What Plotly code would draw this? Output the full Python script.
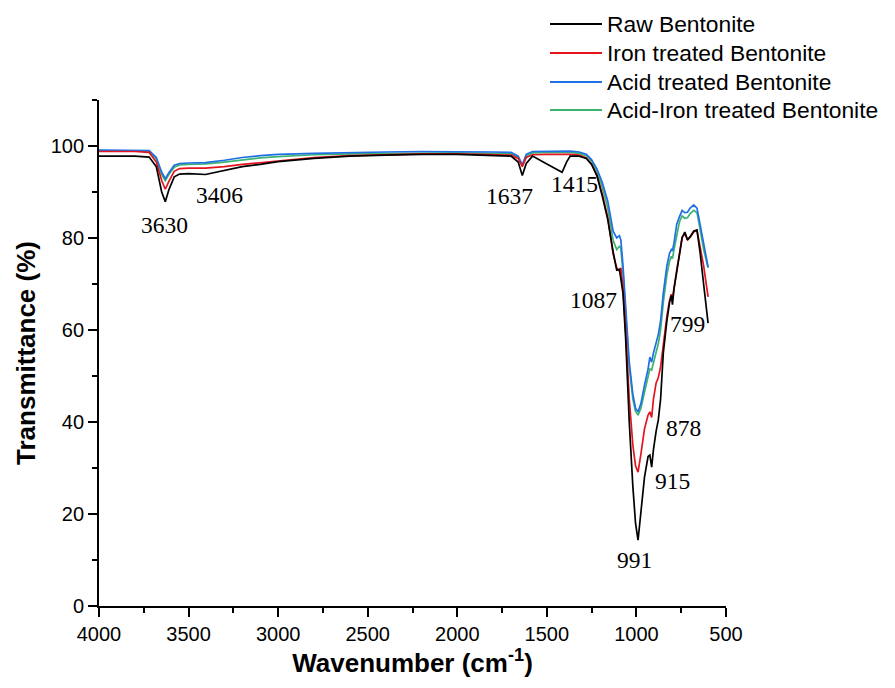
import plotly.graph_objects as go

wavenumber = [4000, 3800, 3720, 3680, 3650, 3630, 3610, 3580, 3550, 3500, 3406, 3300, 3200, 3100, 3000,
              2800, 2600, 2400, 2200, 2000, 1800, 1700, 1660, 1637, 1615, 1580, 1500, 1415, 1390, 1370,
              1320, 1280, 1250, 1220, 1190, 1160, 1130, 1110, 1095, 1087, 1075, 1060, 1040, 1020, 1005,
              991, 975, 955, 935, 925, 915, 905, 890, 878, 865, 850, 830, 815, 805, 799, 790, 775, 760,
              745, 730, 715, 700, 680, 662, 645, 625, 600]

raw = [97.8, 97.8, 97.6, 95.5, 90.0, 87.9, 90.5, 93.3, 93.9, 94.0, 93.8, 94.6, 95.5, 96.0, 96.6,
       97.3, 97.8, 98.0, 98.2, 98.2, 98.0, 97.8, 96.5, 93.6, 96.2, 97.8, 96.1, 94.3, 96.5, 97.8,
       97.8, 97.3, 96.0, 93.5, 89.0, 84.0, 77.0, 73.0, 73.2, 71.0, 68.0, 58.0, 40.0, 26.0, 18.0,
       14.3, 20.0, 28.0, 32.5, 32.8, 30.2, 34.0, 38.0, 40.4, 45.0, 55.0, 62.0, 66.0, 67.5, 65.5, 69.0, 73.0, 76.5,
       80.0, 81.3, 79.6, 80.3, 81.5, 81.7, 77.0, 70.0, 61.5]

iron = [98.8, 98.8, 98.6, 96.5, 92.5, 90.6, 92.3, 94.5, 95.1, 95.2, 95.2, 95.5, 96.0, 96.4, 96.8,
        97.5, 97.9, 98.1, 98.3, 98.3, 98.1, 98.0, 97.3, 95.5, 97.5, 98.1, 98.2, 98.2, 98.2, 98.2,
        98.0, 97.4, 96.0, 93.5, 89.5, 84.5, 76.5, 73.5, 72.8, 73.5, 69.0, 60.0, 45.0, 35.0, 30.5,
        29.1, 33.0, 38.5, 41.5, 42.2, 41.0, 45.0, 48.5, 49.6, 52.0, 57.0, 63.0, 66.5, 67.8, 66.8, 69.5, 73.0, 76.5,
        80.2, 81.0, 79.6, 80.2, 81.3, 81.7, 78.5, 74.0, 67.2]

acid = [99.1, 99.1, 99.0, 97.5, 94.3, 92.9, 94.2, 95.8, 96.2, 96.3, 96.4, 96.9, 97.5, 97.9, 98.2,
        98.4, 98.6, 98.7, 98.8, 98.8, 98.7, 98.6, 97.8, 95.9, 98.2, 98.8, 98.9, 98.9, 98.9, 98.9,
        98.7, 98.2, 97.0, 95.0, 92.0, 88.0, 81.5, 80.0, 80.5, 79.6, 74.0, 65.0, 53.0, 46.0, 43.0,
        42.2, 44.0, 48.0, 51.5, 54.1, 53.0, 55.0, 57.0, 59.0, 62.0, 68.0, 74.0, 76.7, 77.5, 77.2, 79.0, 83.0, 84.6,
        86.0, 85.5, 85.6, 86.5, 87.2, 86.5, 83.0, 78.0, 73.7]

acid_iron = [99.0, 99.0, 98.9, 97.2, 93.8, 92.5, 93.8, 95.4, 95.9, 96.0, 96.1, 96.5, 97.0, 97.4, 97.7,
             98.1, 98.3, 98.4, 98.5, 98.5, 98.4, 98.3, 97.6, 95.8, 97.9, 98.5, 98.6, 98.6, 98.6, 98.6,
             98.4, 97.9, 96.7, 94.5, 91.0, 86.5, 79.5, 77.5, 78.2, 77.8, 72.5, 64.0, 52.0, 45.0, 42.3,
             41.5, 43.0, 46.5, 49.5, 51.5, 51.3, 53.0, 55.0, 57.0, 60.0, 66.0, 72.0, 75.0, 76.0, 75.5, 77.5, 81.0, 83.5,
             84.8, 84.3, 84.4, 85.3, 86.0, 85.5, 82.0, 77.5, 73.5]

series_names = ["Raw Bentonite", "Iron treated Bentonite", "Acid treated Bentonite", "Acid-Iron treated Bentonite"]
series_values = [raw, iron, acid, acid_iron]
series_colors = ["#000000", "#E3141E", "#1F6FE5", "#3CB371"]

peak_labels = ["3630", "3406", "1637", "1415", "1087", "991", "915", "878", "799"]
peak_label_x = [3632, 3325, 1706, 1343, 1242, 1011, 801, 740, 715]
peak_label_y = [82.9, 89.4, 89.1, 91.7, 66.5, 10.0, 27.2, 38.7, 61.3]

fig = go.Figure()
for i in [3, 2, 1, 0]:
    fig.add_trace(go.Scatter(x=wavenumber, y=series_values[i], mode="lines", name=series_names[i],
                             line=dict(color=series_colors[i], width=1.7), showlegend=False))

for txt, xv, yv in zip(peak_labels, peak_label_x, peak_label_y):
    fig.add_annotation(x=xv, y=yv, xref="x", yref="y", text=txt, showarrow=False,
                       font=dict(family="Liberation Serif", size=23.5, color="#000000"))

# manual legend (paper coordinates)
leg_rows_y = [1.1502, 1.0929, 1.0356, 0.9802]
for name, color, yy in zip(series_names, series_colors, leg_rows_y):
    fig.add_shape(type="line", xref="paper", yref="paper", x0=0.7193, x1=0.8022, y0=yy, y1=yy,
                  line=dict(color=color, width=2))
    fig.add_annotation(xref="paper", yref="paper", x=0.8070, y=yy, text=name, showarrow=False,
                       xanchor="left", yanchor="middle",
                       font=dict(family="Liberation Sans, Arial", size=22.8, color="#000000"))

fig.update_layout(
    width=895, height=688,
    margin=dict(l=91, r=177, t=92, b=90),
    plot_bgcolor="white", paper_bgcolor="white",
    font=dict(family="Liberation Sans, Arial", size=20, color="#000000"),
)
fig.update_xaxes(range=[4000, 500], tickmode="linear", tick0=500, dtick=500,
                 ticks="outside", ticklen=9, tickwidth=1.5, tickcolor="black",
                 minor=dict(ticks="outside", ticklen=5, tickwidth=1.5, tickcolor="black", dtick=250, tick0=500),
                 showline=True, linecolor="black", linewidth=1.8, showgrid=False, zeroline=False,
                 tickfont=dict(size=20),
                 title=dict(text="<b>Wavenumber (cm<sup>-1</sup>)</b>", font=dict(size=26), standoff=8))
fig.update_yaxes(range=[0, 110], tickmode="linear", tick0=0, dtick=20,
                 ticks="outside", ticklen=9, tickwidth=1.5, tickcolor="black",
                 minor=dict(ticks="outside", ticklen=5, tickwidth=1.5, tickcolor="black", dtick=10, tick0=0),
                 showline=True, linecolor="black", linewidth=1.8, showgrid=False, zeroline=False,
                 tickfont=dict(size=20),
                 title=dict(text="<b>Transmittance (%)</b>", font=dict(size=26), standoff=8))

fig.write_html("out.html")
